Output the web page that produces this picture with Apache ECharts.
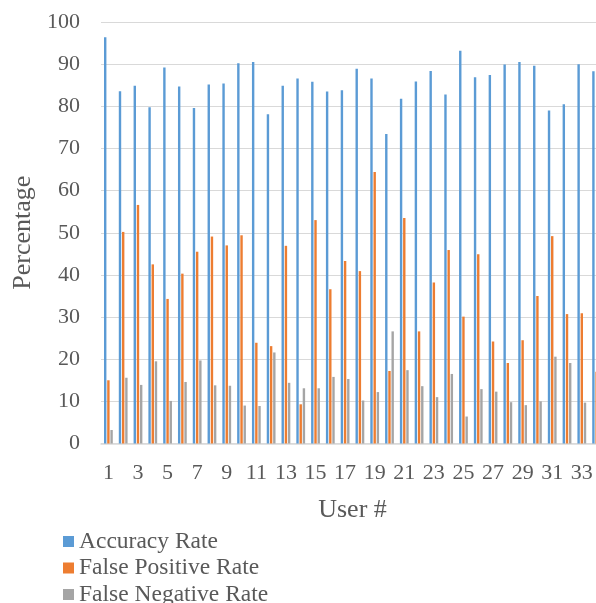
<!DOCTYPE html>
<html>
<head>
<meta charset="utf-8">
<script src="https://cdn.jsdelivr.net/npm/echarts@6/dist/echarts.min.js"></script>
<style>html,body{margin:0;padding:0;background:#fff;}#c{width:596px;height:603px;}</style>
</head>
<body>
<div id="c"></div>
<script>
const users = ['1','2','3','4','5','6','7','8','9','10','11','12','13','14','15','16','17','18','19','20','21','22','23','24','25','26','27','28','29','30','31','32','33','34'];
const accuracy = [96.4,83.6,84.9,79.8,89.2,84.7,79.6,85.2,85.4,90.2,90.5,78.1,84.9,86.6,85.8,83.5,83.8,88.9,86.6,73.4,81.8,85.9,88.4,82.8,93.2,86.9,87.4,89.9,90.5,89.6,79.0,80.5,90.0,88.3];
const falsePositive = [15.0,50.2,56.6,42.5,34.3,40.3,45.5,49.1,47.0,49.4,23.9,23.1,46.9,9.3,53.0,36.6,43.3,40.9,64.4,17.2,53.5,26.6,38.2,45.9,30.1,44.9,24.2,19.1,24.5,35.0,49.2,30.7,30.9,17.0];
const falseNegative = [3.2,15.6,13.9,19.5,10.1,14.6,19.7,13.8,13.7,9.0,8.9,21.6,14.4,13.1,13.1,15.8,15.3,10.2,12.2,26.6,17.4,13.6,11.0,16.5,6.4,12.9,12.3,9.8,9.1,10.0,20.6,19.1,9.7,17.0];
const yTicks = [0,10,20,30,40,50,60,70,80,90,100];

const font = 'Liberation Serif, Times New Roman, serif';
const txt = '#595959';
const chart = echarts.init(document.getElementById('c'), null, {renderer:'canvas'});
chart.setOption({
  animation:false,
  textStyle:{fontFamily:font},
  grid:{left:101,width:503,top:22,height:421.5,containLabel:false,outerBoundsMode:'none'},
  legend:{
    orient:'vertical', left:58, top:524.5, height:150,
    icon:'rect', itemWidth:11, itemHeight:11, itemGap:2.5,
    textStyle:{fontFamily:font, fontSize:23.5, color:txt, lineHeight:24},
    data:['Accuracy Rate','False Positive Rate','False Negative Rate']
  },
  xAxis:{
    type:'category', data:users,
    name:'User #', nameLocation:'middle', nameGap:54,
    nameTextStyle:{fontFamily:font, fontSize:26, color:txt},
    axisLine:{lineStyle:{color:'#D9D9D9', width:1.5}},
    axisTick:{show:false},
    axisLabel:{interval:1, fontFamily:font, fontSize:22, color:txt, margin:19},
    splitLine:{show:false}
  },
  yAxis:{
    type:'value', min:yTicks[0], max:yTicks[yTicks.length-1], interval:10,
    name:'Percentage', nameLocation:'middle', nameGap:63,
    nameTextStyle:{fontFamily:font, fontSize:26, color:txt},
    axisLine:{show:false}, axisTick:{show:false},
    axisLabel:{fontFamily:font, fontSize:22, color:txt, margin:21},
    splitLine:{lineStyle:{color:'#D9D9D9', width:1}}
  },
  series:[
    {name:'Accuracy Rate', type:'bar', data:accuracy, barWidth:2.4, barGap:'33%', itemStyle:{color:'#5B9BD5'}},
    {name:'False Positive Rate', type:'bar', data:falsePositive, barWidth:2.4, barGap:'33%', itemStyle:{color:'#ED7D31'}},
    {name:'False Negative Rate', type:'bar', data:falseNegative, barWidth:2.4, barGap:'33%', itemStyle:{color:'#A5A5A5'}}
  ]
});
</script>
</body>
</html>
